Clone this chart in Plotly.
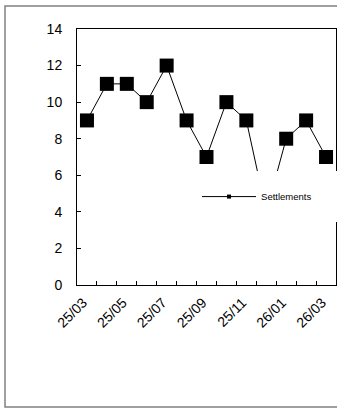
import plotly.graph_objects as go

months = ["25/03", "25/04", "25/05", "25/06", "25/07", "25/08", "25/09",
          "25/10", "25/11", "25/12", "26/01", "26/02", "26/03"]
settlements = [9, 11, 11, 10, 12, 9, 7, 10, 9, 4, 8, 9, 7]
tick_labels = [m if i % 2 == 0 else "" for i, m in enumerate(months)]
y_ticks = [0, 2, 4, 6, 8, 10, 12, 14]
series_name = "Settlements"

fig = go.Figure()
fig.add_trace(go.Scatter(
    x=months, y=settlements, mode="lines+markers", name=series_name,
    line=dict(color="black", width=1),
    marker=dict(symbol="square", size=14, color="black"),
    showlegend=False, cliponaxis=False,
))
# legend-only entry with small marker
fig.add_trace(go.Scatter(
    x=[None], y=[None], mode="lines+markers", name=series_name,
    line=dict(color="black", width=1),
    marker=dict(symbol="square", size=4, color="black"),
    showlegend=True,
))

fig.update_layout(
    width=337, height=409,
    margin=dict(l=77, r=1.3, t=29, b=124, autoexpand=False),
    paper_bgcolor="white", plot_bgcolor="white",
    font=dict(family="Liberation Sans, Arial, sans-serif", size=14, color="black"),
    showlegend=True,
    legend=dict(
        x=0.421, y=0.445, xanchor="left", yanchor="top",
        orientation="h", entrywidth=140, itemwidth=54,
        bgcolor="white", bordercolor="white", borderwidth=11,
        font=dict(size=9.5, color="black"),
    ),
    xaxis=dict(
        type="category", tickvals=months, ticktext=tick_labels,
        range=[-0.5, len(months) - 0.5],
        tickson="boundaries", ticks="inside", ticklen=4, tickcolor="black",
        tickangle=-45, showgrid=False, showline=True, linecolor="black",
        linewidth=1, mirror=True, zeroline=False,
        tickfont=dict(size=14), ticklabelshift=-4, ticklabelstandoff=3,
    ),
    yaxis=dict(
        range=[0, 14], tickvals=y_ticks, ticks="inside", ticklen=4,
        tickcolor="black", showgrid=False, showline=True, linecolor="black",
        linewidth=1, mirror=True, zeroline=False, tickfont=dict(size=14),
        ticklabelstandoff=11,
    ),
    shapes=[dict(
        type="rect", xref="paper", yref="paper",
        x0=-0.278, x1=1.3, y0=-0.4766, y1=1.0898,
        line=dict(color="#808080", width=1.5), fillcolor="rgba(0,0,0,0)",
        layer="below",
    )],
)

fig.write_html("out.html", config={"displayModeBar": False},
               post_script="document.body.style.margin='0';")
